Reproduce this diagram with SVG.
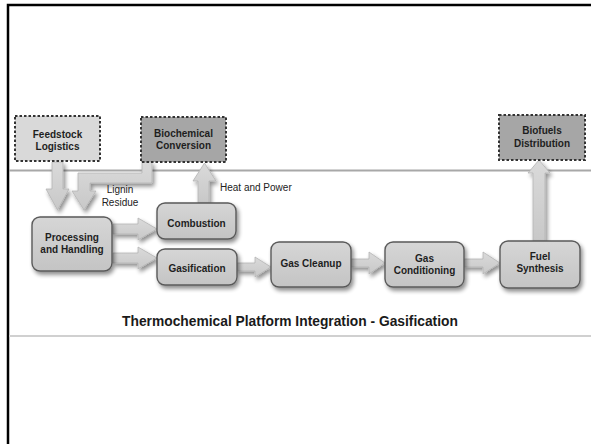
<svg xmlns="http://www.w3.org/2000/svg" width="591" height="444" viewBox="0 0 591 444">
  <defs>
    <style>
      .node rect { fill: url(#boxFill); stroke: #5a5a5a; stroke-width: 1.4; }
      .ext rect { stroke: #333; stroke-width: 2; stroke-dasharray: 2.5 2; }
      .lbl { font-family: "Liberation Sans", Arial, sans-serif; font-size: 10px; font-weight: bold; fill: #1e1e1e; text-anchor: middle; }
      .note { font-family: "Liberation Sans", Arial, sans-serif; font-size: 10px; fill: #222; }
      .arrow { fill: url(#arrowFill); stroke: #b4b4b4; stroke-width: 0.8; }
    </style>
    <linearGradient id="boxFill" x1="0" y1="0" x2="0" y2="1">
      <stop offset="0" stop-color="#d6d6d6"/>
      <stop offset="1" stop-color="#c4c4c4"/>
    </linearGradient>
    <linearGradient id="arrowFill" x1="0" y1="0" x2="0" y2="1">
      <stop offset="0" stop-color="#dadada"/>
      <stop offset="1" stop-color="#c8c8c8"/>
    </linearGradient>
    <filter id="shadow" x="-20%" y="-20%" width="150%" height="160%">
      <feGaussianBlur in="SourceAlpha" stdDeviation="2.2"/>
      <feOffset dx="2" dy="3" result="b"/>
      <feComponentTransfer><feFuncA type="linear" slope="0.45"/></feComponentTransfer>
      <feMerge><feMergeNode/><feMergeNode in="SourceGraphic"/></feMerge>
    </filter>
  </defs>

  <!-- page -->
  <rect x="0" y="0" width="591" height="444" fill="#ffffff"/>
  <path d="M8 444 V5 H591" fill="none" stroke="#000" stroke-width="2.5"/>

  <!-- band rules -->
  <line x1="9" y1="170.5" x2="591" y2="170.5" stroke="#a8a8a8" stroke-width="2"/>
  <line x1="9" y1="336" x2="591" y2="336" stroke="#d0d0d0" stroke-width="2"/>

  <!-- connectors -->
  <g id="connectors" filter="url(#shadow)">
    <!-- feedstock down -->
    <path class="arrow" d="M52 162 H63 V189 H69 L57.5 210 L46 189 H52 Z"/>
    <!-- lignin residue elbow -->
    <path class="arrow" d="M142 162 H152 V183 H90 V191 H96 L84 210 L72 191 H78 V173 H142 Z"/>
    <!-- heat and power up -->
    <path class="arrow" d="M198 203 V181 H193 L204.5 163 L216 181 H209 V203 Z"/>
    <!-- fuel to distribution up -->
    <path class="arrow" d="M533 241 V173 H528 L539 160 L550 173 H545 V241 Z"/>
    <!-- processing to combustion -->
    <path class="arrow" d="M113 224 H138 V218 L157 229 L138 240 V234 H113 Z"/>
    <!-- processing to gasification -->
    <path class="arrow" d="M113 253 H138 V247 L157 258 L138 269 V263 H113 Z"/>
    <!-- gasification to gas cleanup -->
    <path class="arrow" d="M237 263 H255 V257 L271 267 L255 277 V271 H237 Z"/>
    <!-- gas cleanup to conditioning -->
    <path class="arrow" d="M351 259 H369 V252 L385 263 L369 274 V267 H351 Z"/>
    <!-- conditioning to fuel synthesis -->
    <path class="arrow" d="M464 259 H483 V252 L500 263 L483 274 V267 H464 Z"/>
  </g>
  <text class="note" x="220" y="191">Heat and Power</text>
  <text class="note" x="120" y="193" text-anchor="middle" font-size="9">Lignin</text>
  <text class="note" x="120" y="206" text-anchor="middle" font-size="9">Residue</text>

  <!-- outside-platform nodes -->
  <g id="feedstock" class="node ext">
    <rect x="15" y="116" width="85" height="45" style="fill:#d9d9d9"/>
    <text class="lbl" x="57.5" y="138">Feedstock</text>
    <text class="lbl" x="57.5" y="150">Logistics</text>
  </g>
  <g id="biochemical" class="node ext">
    <rect x="141" y="117" width="85" height="45" style="fill:#a6a6a6"/>
    <text class="lbl" x="183.5" y="136.5">Biochemical</text>
    <text class="lbl" x="183.5" y="148.5">Conversion</text>
  </g>
  <g id="distribution" class="node ext">
    <rect x="499" y="115" width="86" height="45" style="fill:#a6a6a6"/>
    <text class="lbl" x="542" y="134">Biofuels</text>
    <text class="lbl" x="542" y="146.5">Distribution</text>
  </g>

  <!-- platform nodes -->
  <g id="processing" class="node" >
    <rect x="32" y="217" width="80" height="54" rx="8" filter="url(#shadow)"/>
    <text class="lbl" x="72" y="240.5">Processing</text>
    <text class="lbl" x="72" y="252.5">and Handling</text>
  </g>
  <g id="combustion" class="node">
    <rect x="157" y="203" width="79" height="36" rx="8" filter="url(#shadow)"/>
    <text class="lbl" x="196.5" y="226.5">Combustion</text>
  </g>
  <g id="gasification" class="node">
    <rect x="157" y="249" width="80" height="36" rx="8" filter="url(#shadow)"/>
    <text class="lbl" x="197" y="271.5">Gasification</text>
  </g>
  <g id="cleanup" class="node">
    <rect x="271" y="242" width="80" height="45" rx="8" filter="url(#shadow)"/>
    <text class="lbl" x="311" y="267">Gas Cleanup</text>
  </g>
  <g id="conditioning" class="node">
    <rect x="385" y="242" width="79" height="45" rx="8" filter="url(#shadow)"/>
    <text class="lbl" x="424.5" y="261.5">Gas</text>
    <text class="lbl" x="424.5" y="273.5">Conditioning</text>
  </g>
  <g id="synthesis" class="node">
    <rect x="500" y="241" width="80" height="47" rx="8" filter="url(#shadow)"/>
    <text class="lbl" x="540" y="260">Fuel</text>
    <text class="lbl" x="540" y="272">Synthesis</text>
  </g>

  <!-- caption -->
  <text x="290" y="326" font-family="Liberation Sans, Arial, sans-serif" font-size="13.8" font-weight="bold" fill="#1a1a1a" text-anchor="middle">Thermochemical Platform Integration - Gasification</text>
</svg>
